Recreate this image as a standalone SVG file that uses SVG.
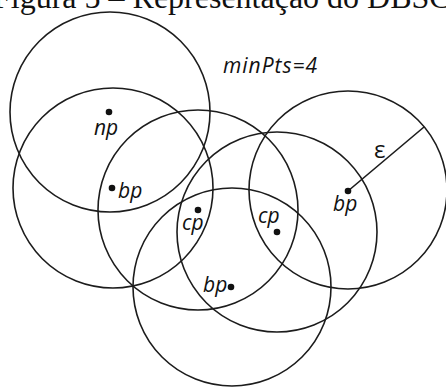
<svg xmlns="http://www.w3.org/2000/svg" width="446" height="388" viewBox="0 0 446 388">
<style>
.c{fill:none;stroke:#1c1c1c;stroke-width:1.6}
.d{fill:#111}
.l{font-family:"Open Sans","DejaVu Sans",sans-serif;font-style:italic;font-size:21px;fill:#111}
.t{font-family:"Liberation Serif","Times New Roman",serif;font-size:32px;fill:#111}
</style>
<rect width="446" height="388" fill="#fff"/>
<text class="t" x="-7" y="8">Figura 5 – Representação do DBSCAN</text>
<g id="circles">
<circle id="cA" class="c" cx="110" cy="112" r="100"/>
<circle id="cB" class="c" cx="113" cy="188" r="100"/>
<circle id="cC" class="c" cx="198" cy="210" r="100"/>
<circle id="cD" class="c" cx="277" cy="232" r="100"/>
<circle id="cE" class="c" cx="348" cy="190" r="99"/>
<circle id="cF" class="c" cx="232" cy="287" r="99"/>
</g>
<g id="connectors">
<line class="c" x1="348" y1="191" x2="424" y2="127"/>
</g>
<g id="np"><circle class="d" cx="109" cy="112" r="3.3"/><text class="l" x="94" y="135">np</text></g>
<g id="bp1"><circle class="d" cx="112" cy="188" r="3.3"/><text class="l" x="118" y="198">bp</text></g>
<g id="cp1"><circle class="d" cx="198" cy="210" r="3.3"/><text class="l" x="182" y="230">cp</text></g>
<g id="cp2"><circle class="d" cx="277" cy="232" r="3.3"/><text class="l" x="258" y="223">cp</text></g>
<g id="bp2"><circle class="d" cx="348" cy="191" r="3.3"/><text class="l" x="333" y="211">bp</text></g>
<g id="bp3"><circle class="d" cx="231" cy="287" r="3.3"/><text class="l" x="203" y="292">bp</text></g>
<text class="l" x="223" y="73" font-size="19" textLength="94">minPts=4</text>
<text x="374" y="158" font-family="'Open Sans','DejaVu Sans',sans-serif" font-size="24" fill="#111">ε</text>
</svg>
